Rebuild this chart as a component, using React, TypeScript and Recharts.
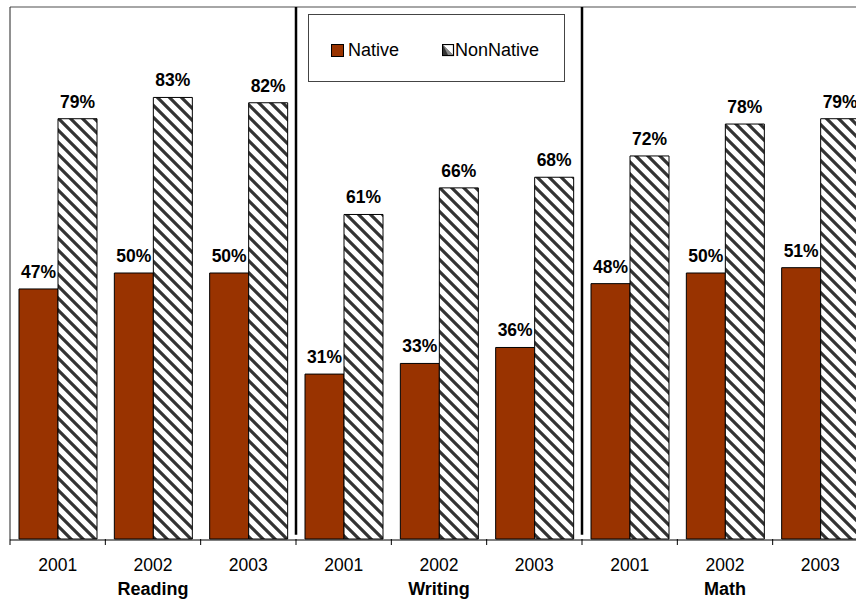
import React from 'react';
import {
  BarChart,
  Bar,
  XAxis,
  YAxis,
  LabelList,
  ReferenceLine,
  Legend,
} from 'recharts';

const subjects = ['Reading', 'Writing', 'Math'];
const years = ['2001', '2002', '2003'];
const nativeValues = [47, 50, 50, 31, 33, 36, 48, 50, 51];
const nonNativeValues = [79, 83, 82, 61, 66, 68, 72, 78, 79];
const boundaryTicks = [0, 1, 2, 3, 4, 5, 6, 7, 8, 9];
const separators = [3, 6];

const categoryYears: string[] = [];
const categoryGroups: string[] = [];
subjects.forEach((s) => {
  years.forEach((y, i) => {
    categoryYears.push(y);
    categoryGroups.push(i === 1 ? s : '');
  });
});

const data = categoryYears.map((y, i) => ({
  key: `${categoryGroups[i] || i}-${y}-${i}`,
  idx: i + 0.5,
  Native: nativeValues[i],
  NonNative: nonNativeValues[i],
}));

const FONT = "Arial, 'Liberation Sans', sans-serif";
const NATIVE_COLOR = '#993300';

const YearTick = (props: any) => {
  const { x, y, index } = props;
  return (
    <g>
      <text x={x} y={y + 31} textAnchor="middle" fontFamily={FONT} fontSize={17.5} fill="#000">
        {categoryYears[index]}
      </text>
      {categoryGroups[index] ? (
        <text x={x} y={y + 55} textAnchor="middle" fontFamily={FONT} fontSize={18} fontWeight="bold" fill="#000">
          {categoryGroups[index]}
        </text>
      ) : null}
    </g>
  );
};

const EmptyTick = () => <g />;

const LegendBox = () => (
  <div
    style={{
      width: 257,
      height: 68,
      boxSizing: 'border-box',
      border: '1px solid #444',
      background: '#fff',
      position: 'relative',
      fontFamily: FONT,
      fontSize: 18,
      color: '#000',
    }}
  >
    <svg width={14} height={14} style={{ position: 'absolute', left: 22, top: 29 }}>
      <rect x={0.5} y={0.5} width={12} height={12} fill={NATIVE_COLOR} stroke="#000" strokeWidth={1} />
    </svg>
    <span style={{ position: 'absolute', left: 39, top: 25, lineHeight: '20px' }}>Native</span>
    <svg width={14} height={14} style={{ position: 'absolute', left: 133, top: 29 }}>
      <rect x={0.5} y={0.5} width={11} height={11} fill="#fff" stroke="#000" strokeWidth={1.2} />
      <polygon points="1,1 1,11 11,11" fill="#333" />
      <polygon points="1,1 11,11 6,11" fill="#888" />
    </svg>
    <span style={{ position: 'absolute', left: 146, top: 25, lineHeight: '20px' }}>NonNative</span>
  </div>
);

const labelStyle = { fontFamily: FONT, fontSize: 17.5, fontWeight: 'bold', fill: '#000' } as const;

export default function App() {
  return (
    <div style={{ position: 'absolute', left: 0, top: 0, width: 856, height: 600, overflow: 'hidden', background: '#fff' }}>
      <svg width={0} height={0} style={{ position: 'absolute' }}>
        <defs>
          <pattern id="hatch" patternUnits="userSpaceOnUse" width={12} height={12}>
            <rect x={0} y={0} width={12} height={12} fill="#fff" />
            <path d="M-6,6 L6,18 M-3,-3 L15,15 M6,-6 L18,6" stroke="#333" strokeWidth={3.2} />
          </pattern>
        </defs>
      </svg>
      <BarChart
        width={880}
        height={600}
        data={data}
        margin={{ top: 7, right: 12, bottom: 0, left: 9 }}
        barCategoryGap={9}
        barGap={0}
      >
        <XAxis
          xAxisId={0}
          dataKey="idx"
          type="number"
          domain={[0, 9]}
          allowDataOverflow
          ticks={boundaryTicks}
          interval={0}
          axisLine={false}
          tickLine={{ stroke: '#000', strokeWidth: 1 }}
          tickSize={6}
          tick={<EmptyTick />}
          height={1}
        />
        <XAxis
          xAxisId={1}
          dataKey="key"
          interval={0}
          axisLine={{ stroke: '#000', strokeWidth: 1 }}
          tickLine={false}
          tickSize={0}
          tickMargin={0}
          tick={<YearTick />}
          height={60}
        />
        <YAxis
          domain={[0, 100]}
          width={1}
          tick={false}
          tickLine={false}
          axisLine={{ stroke: '#222', strokeWidth: 1 }}
        />
        <ReferenceLine xAxisId={1} y={100} stroke="#888" strokeWidth={1.5} />
        {separators.map((s) => (
          <ReferenceLine
            key={s}
            xAxisId={0}
            segment={[{ x: s, y: 0.8 }, { x: s, y: 100 }]}
            stroke="#000"
            strokeWidth={2.5}
          />
        ))}
        <Legend
          layout="horizontal"
          verticalAlign="middle"
          align="center"
          wrapperStyle={{ top: 14, left: 308, width: 257, height: 68 }}
          content={<LegendBox />}
        />
        <Bar xAxisId={1} dataKey="Native" fill={NATIVE_COLOR} stroke="#000" strokeWidth={1} isAnimationActive={false}>
          <LabelList
            dataKey="Native"
            position="top"
            offset={11}
            formatter={(v: any) => `${v}%`}
            style={labelStyle}
          />
        </Bar>
        <Bar xAxisId={1} dataKey="NonNative" fill="url(#hatch)" stroke="#000" strokeWidth={1} isAnimationActive={false}>
          <LabelList
            dataKey="NonNative"
            position="top"
            offset={11}
            formatter={(v: any) => `${v}%`}
            style={labelStyle}
          />
        </Bar>
      </BarChart>
    </div>
  );
}
